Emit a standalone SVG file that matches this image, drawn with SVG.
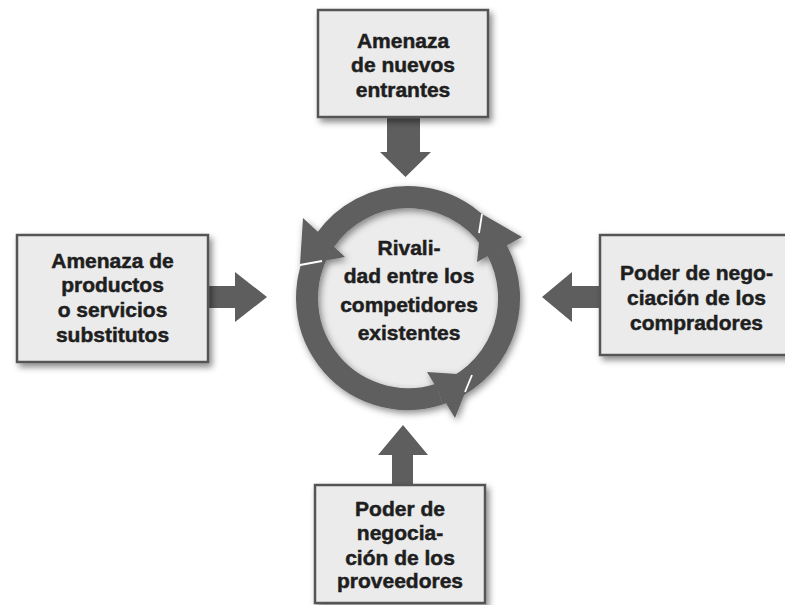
<svg xmlns="http://www.w3.org/2000/svg" width="785" height="605" viewBox="0 0 785 605">
<defs>
<filter id="sh" x="-20%" y="-20%" width="140%" height="140%">
<feDropShadow dx="3" dy="4" stdDeviation="3" flood-color="#000" flood-opacity="0.45"/>
</filter>
<filter id="sh2" x="-20%" y="-20%" width="140%" height="140%">
<feDropShadow dx="2" dy="3" stdDeviation="3.5" flood-color="#000" flood-opacity="0.45"/>
</filter>
</defs>
<style>
.box{fill:#ebebeb;stroke:#555;stroke-width:2.5}
.t{font-family:"Liberation Sans",Arial,sans-serif;font-weight:bold;font-size:21px;fill:#1e1e1e;stroke:#1e1e1e;stroke-width:0.5;text-anchor:middle}
.arr{fill:#5e5e5e}
.ring{fill:none;stroke:#5e5e5e;stroke-width:22}
.sep{stroke:#fff;stroke-width:1.8;fill:none}
</style>
<rect width="785" height="605" fill="#fff"/>

<g id="connectors">
<polygon class="arr" points="387,117 420,117 420,152 431,152 405.5,177 380,152 387,152"/>
<polygon class="arr" points="208,286 235,286 235,272 267,297 235,322 235,308 208,308"/>
<polygon class="arr" points="600,286 572,286 572,272 542,297 572,322 572,308 600,308"/>
<polygon class="arr" points="392,485 392,455 378,455 403,425 428,455 413,455 413,485"/>
</g>

<g id="rivalry">
<circle cx="408" cy="298" r="90" fill="#ececec"/>
<g filter="url(#sh2)">
<path class="ring" d="M497.2,250.6 A101,101 0 0 0 325.3,240.1"/>
<path class="ring" d="M325.3,240.1 A101,101 0 0 0 439.2,394.1"/>
<path class="ring" d="M439.2,394.1 A101,101 0 0 0 497.2,250.6"/>
<polygon class="arr" points="303,218 345,257 300,265"/>
<polygon class="arr" points="522,237 477,262 482,214"/>
<polygon class="arr" points="427,372 455,418 472,375"/>
</g>
<path class="sep" d="M300,265 L322,261"/>
<path class="sep" d="M482,214 L479,233"/>
<path class="sep" d="M472,375 L465,392"/>
<text class="t" x="409" y="255">Rivali-</text>
<text class="t" x="409" y="283">dad entre los</text>
<text class="t" x="409" y="312">competidores</text>
<text class="t" x="409" y="340">existentes</text>
</g>

<g id="new-entrants">
<rect class="box" x="318" y="10" width="170" height="107" filter="url(#sh)"/>
<text class="t" x="403" y="48">Amenaza</text>
<text class="t" x="403" y="72">de nuevos</text>
<text class="t" x="403" y="97">entrantes</text>
</g>

<g id="substitutes">
<rect class="box" x="17" y="235" width="191" height="127" filter="url(#sh)"/>
<text class="t" x="112.5" y="268">Amenaza de</text>
<text class="t" x="112.5" y="292">productos</text>
<text class="t" x="112.5" y="317">o servicios</text>
<text class="t" x="112.5" y="342">substitutos</text>
</g>

<g id="buyers">
<rect class="box" x="600" y="235" width="195" height="120" filter="url(#sh)"/>
<text class="t" x="696.5" y="280">Poder de nego-</text>
<text class="t" x="696.5" y="305">ciación de los</text>
<text class="t" x="696.5" y="330">compradores</text>
</g>

<g id="suppliers">
<rect class="box" x="315" y="485" width="170" height="118" filter="url(#sh)"/>
<text class="t" x="400" y="516">Poder de</text>
<text class="t" x="400" y="540">negocia-</text>
<text class="t" x="400" y="565">ción de los</text>
<text class="t" x="400" y="588">proveedores</text>
</g>
</svg>
